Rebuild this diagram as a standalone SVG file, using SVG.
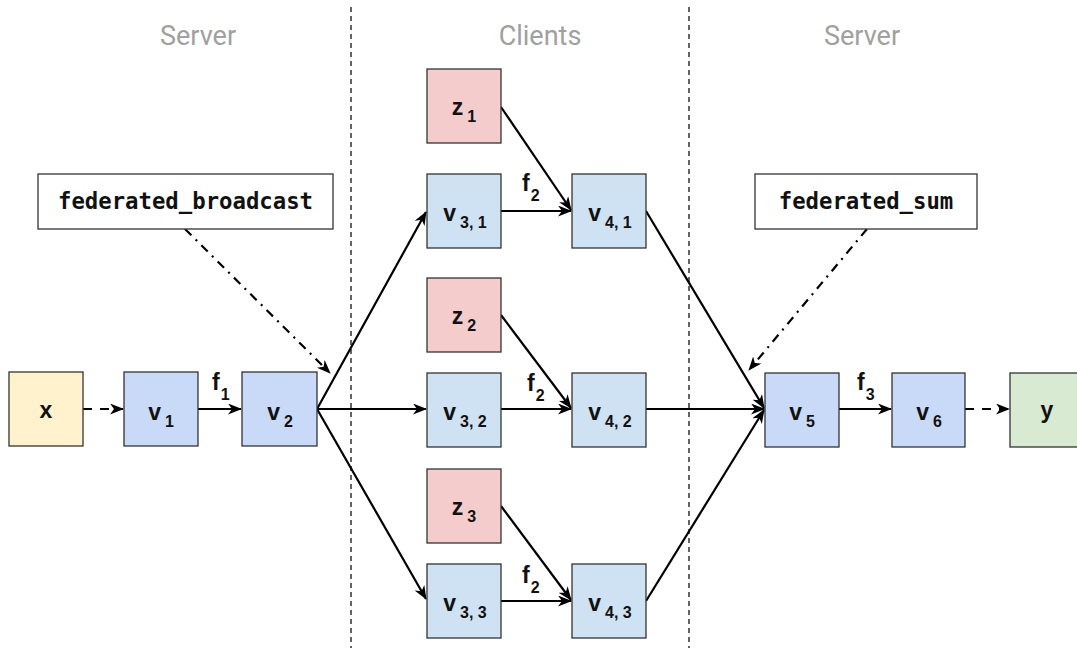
<svg xmlns="http://www.w3.org/2000/svg" width="1077" height="648" viewBox="0 0 1077 648">
<style>
.n{stroke:#333;stroke-width:1.3}
.b1{fill:#c9daf8}.b2{fill:#cfe2f3}.zz{fill:#f4cccc}.xx{fill:#fff2cc}.yy{fill:#d9ead3}
.lbl{font-family:"Liberation Sans",Arial,sans-serif;font-weight:bold;font-size:23px;fill:#111;text-anchor:middle}
.sub{font-size:16px}
.fl{font-family:"Liberation Sans",Arial,sans-serif;font-weight:bold;font-size:23px;fill:#111}
.hd{font-family:Roboto,"Liberation Sans",sans-serif;font-size:27px;fill:#a0a0a0;text-anchor:middle}
.mono{font-family:"DejaVu Sans Mono","Liberation Mono",monospace;font-weight:bold;font-size:22.3px;fill:#111;text-anchor:middle}
.e{stroke:#000;stroke-width:2.2;fill:none;marker-end:url(#ah)}
.d{stroke-dasharray:9 8}
.dd{stroke-dasharray:9 6 2 6}
.sep{stroke:#111;stroke-width:1.3;stroke-dasharray:5 4}
</style>
<defs>
<marker id="ah" viewBox="0 0 14 11" refX="13" refY="5.5" markerWidth="14" markerHeight="11" markerUnits="userSpaceOnUse" orient="auto">
<path d="M0,0 L14,5.5 L0,11 L4,5.5 z" fill="#000"/>
</marker>
</defs>
<rect width="1077" height="648" fill="#fff"/>
<g id="separators">
<line class="sep" x1="351" y1="7" x2="351" y2="648"/>
<line class="sep" x1="689" y1="7" x2="689" y2="648"/>
</g>
<g id="headings">
<text class="hd" x="198" y="45">Server</text>
<text class="hd" x="540" y="45">Clients</text>
<text class="hd" x="862" y="45">Server</text>
</g>
<g id="connectors">
<line class="e d" x1="83" y1="409" x2="123" y2="409"/>
<line class="e" x1="198" y1="409" x2="241" y2="409"/>
<line class="e" x1="317" y1="409" x2="426" y2="212"/>
<line class="e" x1="317" y1="409" x2="426" y2="409"/>
<line class="e" x1="317" y1="409" x2="426" y2="599"/>
<line class="e" x1="501" y1="211" x2="571" y2="211"/>
<line class="e" x1="501" y1="409" x2="571" y2="409"/>
<line class="e" x1="501" y1="601" x2="571" y2="601"/>
<line class="e" x1="501" y1="107" x2="571" y2="210"/>
<line class="e" x1="501" y1="315" x2="571" y2="408"/>
<line class="e" x1="501" y1="506" x2="571" y2="600"/>
<line class="e" x1="646" y1="211" x2="764" y2="408"/>
<line class="e" x1="646" y1="409" x2="764" y2="409"/>
<line class="e" x1="646" y1="601" x2="764" y2="410"/>
<line class="e" x1="839" y1="409" x2="891" y2="409"/>
<line class="e d" x1="965" y1="409" x2="1009" y2="409"/>
<line class="e dd" x1="185" y1="229" x2="330" y2="373"/>
<line class="e dd" x1="867" y1="229" x2="749" y2="370"/>
<text class="fl" x="212" y="390">f<tspan class="sub" dx="1" dy="10">1</tspan></text>
<text class="fl" x="522" y="191">f<tspan class="sub" dx="1" dy="10">2</tspan></text>
<text class="fl" x="527" y="391">f<tspan class="sub" dx="1" dy="10">2</tspan></text>
<text class="fl" x="522" y="583">f<tspan class="sub" dx="1" dy="10">2</tspan></text>
<text class="fl" x="857" y="390">f<tspan class="sub" dx="1" dy="10">3</tspan></text>
</g>
<g id="fb"><rect class="n" x="38" y="174" width="295" height="55" fill="#fff"/><text class="mono" x="185.5" y="209">federated_broadcast</text></g>
<g id="fs"><rect class="n" x="755" y="174" width="222" height="55" fill="#fff"/><text class="mono" x="866" y="209">federated_sum</text></g>
<g id="x"><rect class="n xx" x="9" y="372" width="74" height="74"/><text class="lbl" x="46" y="418">x</text></g>
<g id="v1"><rect class="n b1" x="124" y="372" width="74" height="74"/><text class="lbl" x="161" y="420">v<tspan class="sub" dx="4" dy="7">1</tspan></text></g>
<g id="v2"><rect class="n b1" x="242" y="372" width="75" height="74"/><text class="lbl" x="280" y="420">v<tspan class="sub" dx="4" dy="7">2</tspan></text></g>
<g id="z1"><rect class="n zz" x="427" y="69" width="74" height="74"/><text class="lbl" x="464" y="115">z<tspan class="sub" dx="4" dy="7">1</tspan></text></g>
<g id="v31"><rect class="n b2" x="427" y="174" width="74" height="74"/><text class="lbl" x="465" y="221">v<tspan class="sub" dx="4" dy="7">3, 1</tspan></text></g>
<g id="v41"><rect class="n b2" x="572" y="174" width="74" height="74"/><text class="lbl" x="610" y="221">v<tspan class="sub" dx="4" dy="7">4, 1</tspan></text></g>
<g id="z2"><rect class="n zz" x="427" y="278" width="74" height="74"/><text class="lbl" x="464" y="324">z<tspan class="sub" dx="4" dy="7">2</tspan></text></g>
<g id="v32"><rect class="n b2" x="427" y="373" width="74" height="74"/><text class="lbl" x="465" y="420">v<tspan class="sub" dx="4" dy="7">3, 2</tspan></text></g>
<g id="v42"><rect class="n b2" x="572" y="373" width="74" height="74"/><text class="lbl" x="610" y="420">v<tspan class="sub" dx="4" dy="7">4, 2</tspan></text></g>
<g id="z3"><rect class="n zz" x="427" y="469" width="74" height="74"/><text class="lbl" x="464" y="515">z<tspan class="sub" dx="4" dy="7">3</tspan></text></g>
<g id="v33"><rect class="n b2" x="427" y="564" width="74" height="74"/><text class="lbl" x="465" y="611">v<tspan class="sub" dx="4" dy="7">3, 3</tspan></text></g>
<g id="v43"><rect class="n b2" x="572" y="564" width="74" height="74"/><text class="lbl" x="610" y="611">v<tspan class="sub" dx="4" dy="7">4, 3</tspan></text></g>
<g id="v5"><rect class="n b1" x="765" y="373" width="74" height="74"/><text class="lbl" x="802" y="420">v<tspan class="sub" dx="4" dy="7">5</tspan></text></g>
<g id="v6"><rect class="n b1" x="892" y="373" width="73" height="74"/><text class="lbl" x="929" y="420">v<tspan class="sub" dx="4" dy="7">6</tspan></text></g>
<g id="y"><rect class="n yy" x="1010" y="373" width="74" height="74"/><text class="lbl" x="1047" y="418">y</text></g>
</svg>
